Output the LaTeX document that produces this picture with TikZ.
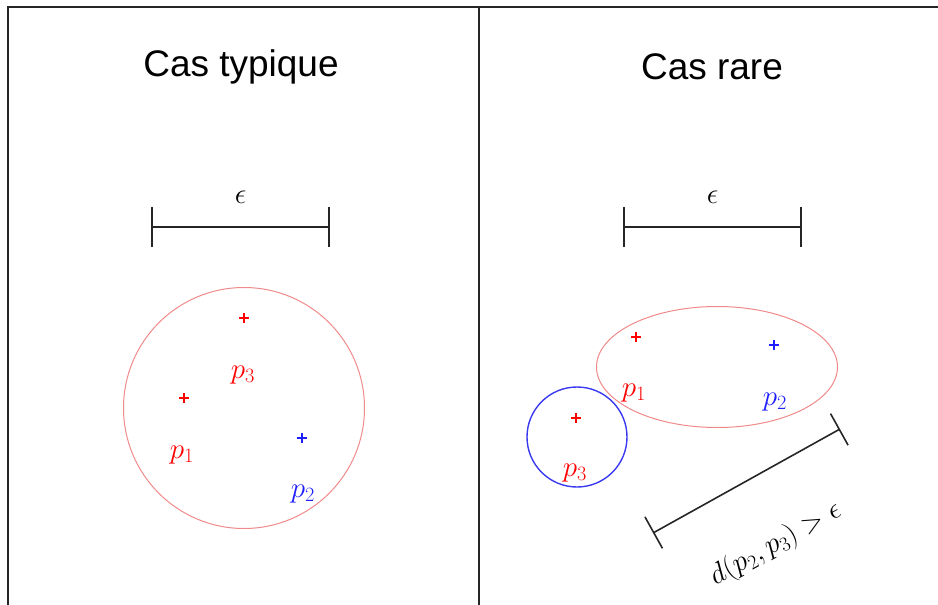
\RequirePackage{fix-cm}
\documentclass[tikz,border=0pt]{standalone}
\usepackage{fontspec}
\setmainfont{Liberation Sans}
\usetikzlibrary{arrows.meta,calc,positioning,shapes.geometric}
\definecolor{ptRed}{HTML}{FF0000}
\definecolor{ptBlue}{HTML}{1E1EFF}
\definecolor{hullRed}{HTML}{F08A8A}
\definecolor{hullBlue}{HTML}{3A3AF0}

\begin{document}
\begin{tikzpicture}[x=1pt,y=-1pt,
  frame/.style={line width=1.5pt,black!85},
  title/.style={font=\fontsize{37}{40}\selectfont},
  lab/.style={font=\fontsize{29}{31}\selectfont,text=#1,inner sep=0pt},
  ptplus/.style={minimum size=10pt,inner sep=0pt,
    path picture={\draw[#1,line width=1.2pt]
      (path picture bounding box.north) -- (path picture bounding box.south)
      (path picture bounding box.west) -- (path picture bounding box.east);}},
  epsbar/.style={line width=1.6pt,black!85,{Bar[width=40pt]}-{Bar[width=40pt]}},
  hull/.style={draw=hullRed,line width=1pt,inner sep=0pt}]
\useasboundingbox (0,0) rectangle (938,605);
% frame of the two panels
\coordinate (tlc) at (8,7);
\coordinate (trc) at (938,7);
\coordinate (blc) at (8,605);
\coordinate (tmid) at (479,7);
\coordinate (bmid) at (479,605);
\draw[frame] (blc) -- (tlc) -- (trc);
\draw[frame] (tmid) -- (bmid);
\node[title] (titleL) at (241,67) {Cas typique};
\node[title] (titleR) at (712,67) {Cas rare};
% epsilon scales
\coordinate (eL1) at (151,227);
\coordinate (eL2) at (330,227);
\coordinate (eR1) at (623,227);
\coordinate (eR2) at (802,227);
\draw[epsbar] (eL1) -- node[lab=black,above=23pt] (epsL) {$\epsilon$} (eL2);
\draw[epsbar] (eR1) -- node[lab=black,above=23pt] (epsR) {$\epsilon$} (eR2);
% left: typical case
\node[hull,circle,minimum size=241pt] (hullL) at (244,408) {};
\node[ptplus=ptRed] (p3L) at (244,318) {};
\node[lab=ptRed] (p3Llab) at (243,375) {$p_3$};
\node[ptplus=ptRed] (p1L) at (184,398) {};
\node[lab=ptRed] (p1Llab) at (182,455) {$p_1$};
\node[ptplus=ptBlue] (p2L) at (302,438) {};
\node[lab=ptBlue] (p2Llab) at (303,494) {$p_2$};
% right: rare case
\node[hull,ellipse,minimum width=241pt,minimum height=121pt] (hullR) at (717,367) {};
\node[circle,draw=hullBlue,line width=1.4pt,inner sep=0pt,minimum size=100pt] (hullB) at (577,437) {};
\node[ptplus=ptRed] (p1R) at (636,337) {};
\node[lab=ptRed] (p1Rlab) at (634,393) {$p_1$};
\node[ptplus=ptBlue] (p2R) at (774,345) {};
\node[lab=ptBlue] (p2Rlab) at (775,402) {$p_2$};
\node[ptplus=ptRed] (p3R) at (576,418) {};
\node[lab=ptRed] (p3Rlab) at (575,473) {$p_3$};
% distance scale
\coordinate (dA) at (653,533);
\coordinate (dB) at (840,429);
\draw[line width=1.6pt,black!85,{Bar[width=36pt]}-{Bar[width=36pt]}] (dA) -- node[lab=black,sloped,below=54pt,xshift=-5pt] (dlab) {$d(p_2,p_3)>\epsilon$} (dB);
\end{tikzpicture}
\end{document}
